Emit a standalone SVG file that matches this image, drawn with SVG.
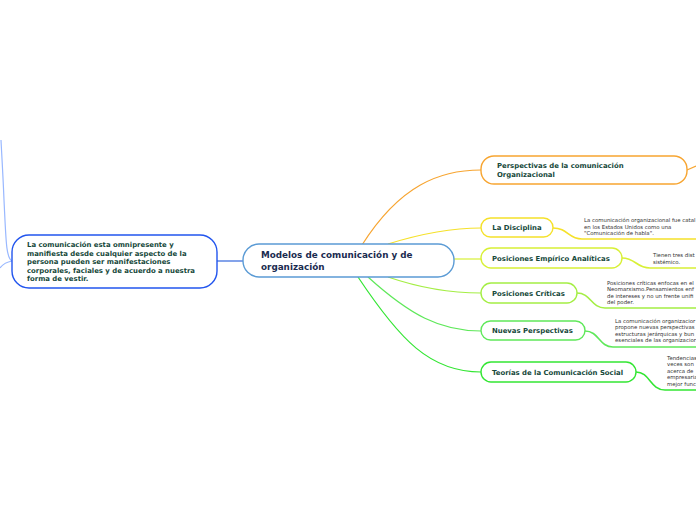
<svg xmlns="http://www.w3.org/2000/svg" width="696" height="520" viewBox="0 0 696 520">
<style>
.n{fill:#fff;stroke-width:1.4}
.t{font-family:"DejaVu Sans",Verdana,sans-serif;font-weight:bold;fill:#15483a;font-size:6.9px}
.s{font-family:"DejaVu Sans",Verdana,sans-serif;fill:#333;font-size:5.4px}
.c{fill:none;stroke-width:1.2}
.u{fill:none;stroke-width:1.6}
</style>
<rect width="696" height="520" fill="#fff"/>
<g id="connectors">
<path class="c" stroke="#99b8ff" d="M12,261 C6,258 6,240 4,200 C3,175 2,160 1,140"/>
<path class="c" stroke="#99b8ff" d="M12,261 C6,262 3,264 0,268"/>
<path class="c" stroke="#3366dd" d="M217,261 L243,261"/>
<path class="c" stroke="#f7a531" d="M362,245 C400,185 440,170 481,170"/>
<path class="c" stroke="#f7a531" d="M687,170 L696,166"/>
<path class="c" stroke="#f5e12a" d="M388,244 C420,234 450,228 481,228"/>
<path class="c" stroke="#d8f036" d="M454,259 L481,259"/>
<path class="c" stroke="#a4ee44" d="M388,277 C420,288 450,293 481,293"/>
<path class="c" stroke="#5fe85a" d="M368,277 C410,315 440,331 481,331"/>
<path class="c" stroke="#33e633" d="M358,277 C400,340 430,372 481,372"/>
<path class="u" stroke="#f5e12a" d="M553,228 C568,228 568,239 582,239 L696,239"/>
<path class="u" stroke="#d8f036" d="M622,258 C636,258 636,268 650,268 L696,268"/>
<path class="u" stroke="#a4ee44" d="M577,293 C591,293 591,308 605,308 L696,308"/>
<path class="u" stroke="#5fe85a" d="M585,331 C599,331 599,347 613,347 L696,347"/>
<path class="u" stroke="#33e633" d="M636,372 C650,372 650,390 665,390 L696,390"/>
</g>
<g id="left">
<rect class="n" x="12" y="235" width="205" height="53" rx="17" stroke="#2255ee"/>
<text class="t"><tspan x="27" y="247">La comunicación esta omnipresente y</tspan><tspan x="27" y="255.5">manifiesta desde cualquier aspecto de la</tspan><tspan x="27" y="264">persona pueden ser manifestaciones</tspan><tspan x="27" y="272.5">corporales, faciales y de acuerdo a nuestra</tspan><tspan x="27" y="281">forma de vestir.</tspan></text>
</g>
<g id="central">
<rect class="n" x="243" y="244" width="211" height="33" rx="16" stroke="#5b9bd5"/>
<text class="t" style="font-size:8.8px;fill:#1a2b50"><tspan x="261" y="258">Modelos de comunicación y de</tspan><tspan x="261" y="270">organización</tspan></text>
</g>
<g id="perspectivas">
<rect class="n" x="481" y="156" width="206" height="28" rx="13" stroke="#f7a531"/>
<text class="t"><tspan x="497" y="168">Perspectivas de la comunicación</tspan><tspan x="497" y="177">Organizacional</tspan></text>
</g>
<g id="disciplina">
<rect class="n" x="481" y="218" width="72" height="19" rx="9.5" stroke="#f5e12a"/>
<text class="t" x="517" y="230" text-anchor="middle">La Disciplina</text>
<text class="s"><tspan x="584" y="222">La comunicación organizacional fue catal</tspan><tspan x="584" y="228.5">en los Estados Unidos como una</tspan><tspan x="584" y="235">"Comunicación de habla".</tspan></text>
</g>
<g id="empirico">
<rect class="n" x="481" y="248" width="141" height="20" rx="10" stroke="#d8f036"/>
<text class="t" x="492" y="261">Posiciones Empírico Analíticas</text>
<text class="s"><tspan x="653" y="257">Tienen tres dist</tspan><tspan x="653" y="263.5">sistémico.</tspan></text>
</g>
<g id="criticas">
<rect class="n" x="481" y="283" width="96" height="20" rx="10" stroke="#a4ee44"/>
<text class="t" x="492" y="296">Posiciones Críticas</text>
<text class="s"><tspan x="607" y="284.5">Posiciones críticas enfocas en el</tspan><tspan x="607" y="291">Neomarxismo.Pensamientos enf</tspan><tspan x="607" y="297.5">de intereses y no un frente unifi</tspan><tspan x="607" y="304">del poder.</tspan></text>
</g>
<g id="nuevas">
<rect class="n" x="481" y="321" width="104" height="19" rx="9.5" stroke="#5fe85a"/>
<text class="t" x="492" y="333">Nuevas Perspectivas</text>
<text class="s"><tspan x="615" y="322.5">La comunicación organizacior</tspan><tspan x="615" y="329">propone nuevas perspectivas</tspan><tspan x="615" y="335.5">estructuras jerárquicas y bun</tspan><tspan x="615" y="342">esenciales de las organizacior</tspan></text>
</g>
<g id="teorias">
<rect class="n" x="481" y="362" width="155" height="20" rx="10" stroke="#33e633"/>
<text class="t" x="492" y="375">Teorías de la Comunicación Social</text>
<text class="s"><tspan x="667" y="359.5">Tendencias</tspan><tspan x="667" y="366">veces son</tspan><tspan x="667" y="372.5">acerca de</tspan><tspan x="667" y="379">empresaria</tspan><tspan x="667" y="385.5">mejor func</tspan></text>
</g>
</svg>
